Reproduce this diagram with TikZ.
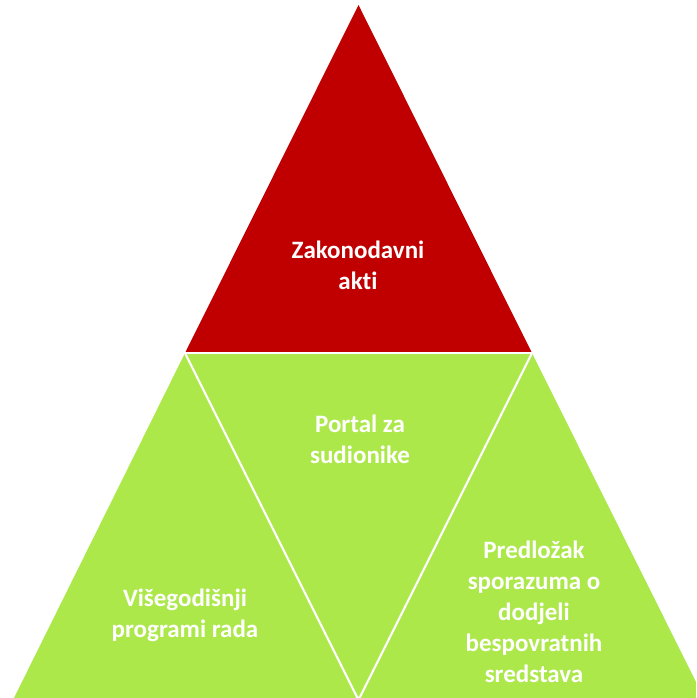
\documentclass[tikz,border=0pt]{standalone}
\usepackage{fontspec}
\setmainfont[Ligatures={NoCommon},RawFeature={-liga}]{Carlito}
\definecolor{topred}{HTML}{C00000}
\definecolor{lgreen}{HTML}{ADE84B}
\begin{document}
\begin{tikzpicture}[x=1pt,y=-1pt,
  tri/.style={draw=white,line width=2.2pt,line join=miter},
  lbl/.style={text=white,font=\fontsize{25}{31}\selectfont\bfseries,align=center,inner sep=0pt}]
\useasboundingbox (0,0) rectangle (696,698);
\clip (0,0) rectangle (696,698);
\coordinate (A) at (358.5,5);
\coordinate (L) at (185,353);
\coordinate (R) at (532,353);
\coordinate (BL) at (13,700);
\coordinate (BM) at (358.5,700);
\coordinate (BR) at (705,700);
\fill[topred] (A) -- (L) -- (R) -- cycle;
\fill[lgreen] (L) -- (BL) -- (BR) -- (R) -- cycle;
\draw[tri] (L) -- (R);
\draw[tri] (L) -- (BM) -- (R);
\node[lbl] (zak) at (358,265) {Zakonodavni\\akti};
\node[lbl] (por) at (360,439) {Portal za\\sudionike};
\node[lbl] (vis) at (185,615) {Višegodišnji\\programi rada};
\node[lbl] (pre) at (534,612) {Predložak\\sporazuma o\\dodjeli\\bespovratnih\\sredstava};
\end{tikzpicture}
\end{document}
